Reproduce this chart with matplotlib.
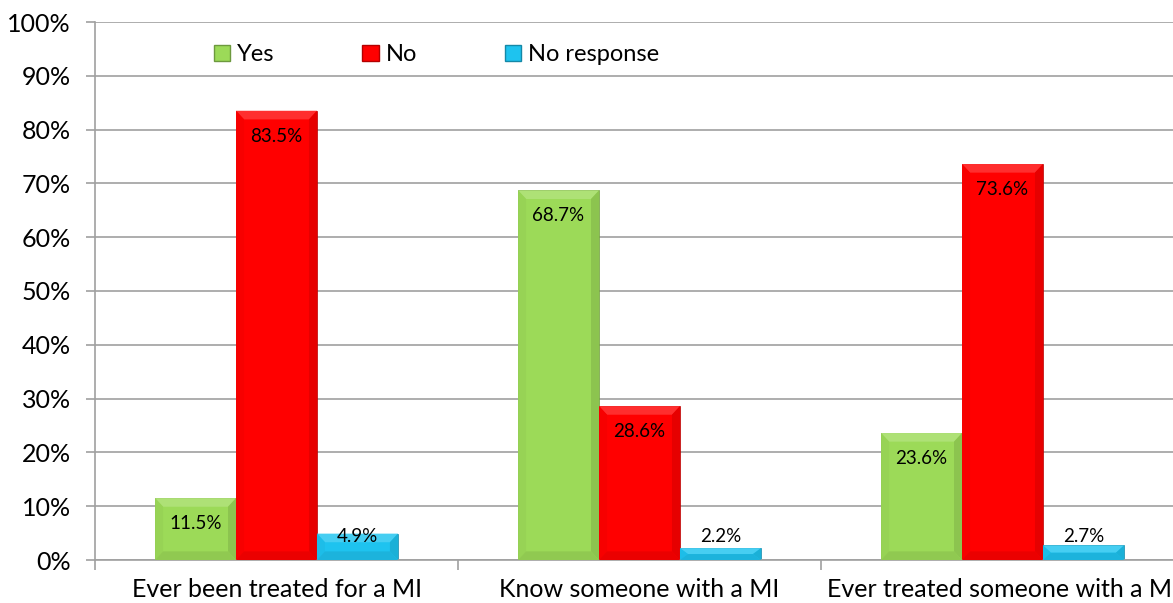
import matplotlib
matplotlib.use("Agg")
import matplotlib.pyplot as plt
from matplotlib.patches import Polygon, Patch
from matplotlib.colors import to_rgb
import numpy as np

categories = ["Ever been treated for a MI", "Know someone with a MI", "Ever treated someone with a MI"]
series_names = ["Yes", "No", "No response"]
yes_vals = [11.5, 68.7, 23.6]
no_vals = [83.5, 28.6, 73.6]
noresp_vals = [4.9, 2.2, 2.7]
y_ticks = [0, 10, 20, 30, 40, 50, 60, 70, 80, 90, 100]

colors = ["#9CDA58", "#FF0000", "#1EC3EF"]

plt.rcParams["font.family"] = ["Lato", "DejaVu Sans"]

fig = plt.figure(figsize=(11.73, 6.03), dpi=100)
ax = fig.add_axes([95 / 1173, 43 / 603, 1089 / 1173, 538 / 603])

x = np.arange(len(categories))
width = 0.223
offsets = [-width, 0, width]
grid_col = "#A0A0A0"


def shade(c, f):
    r, g, b = to_rgb(c)
    if f >= 1:
        return (r + (1 - r) * (f - 1), g + (1 - g) * (f - 1), b + (1 - b) * (f - 1))
    return (r * f, g * f, b * f)


def bevel(ax, x0, x1, y0, y1, color):
    # bevelled edge facets around a bar
    dx = 0.022
    dy = min(1.6, (y1 - y0) / 2)
    facets = [
        ([(x0, y1), (x1, y1), (x1 - dx, y1 - dy), (x0 + dx, y1 - dy)], shade(color, 1.18)),
        ([(x0, y0), (x0, y1), (x0 + dx, y1 - dy), (x0 + dx, y0 + dy)], shade(color, 0.97)),
        ([(x1, y0), (x1, y1), (x1 - dx, y1 - dy), (x1 - dx, y0 + dy)], shade(color, 0.9)),
        ([(x0, y0), (x1, y0), (x1 - dx, y0 + dy), (x0 + dx, y0 + dy)], shade(color, 0.92)),
    ]
    for pts, fc in facets:
        ax.add_patch(Polygon(pts, closed=True, facecolor=fc, edgecolor="none", zorder=3))


all_vals = [yes_vals, no_vals, noresp_vals]
for vals, off, col in zip(all_vals, offsets, colors):
    bars = ax.bar(x + off, vals, width, color=col, edgecolor=shade(col, 0.7), linewidth=0.5, zorder=2)
    for b, v in zip(bars, vals):
        x0 = b.get_x()
        x1 = x0 + b.get_width()
        bevel(ax, x0, x1, 0, v, col)
        ly = max(v - 4.7, 4.3)
        ax.text(x0 + b.get_width() / 2, ly, f"{v:.1f}%", ha="center", va="center",
                fontsize=13.5, color="#000000", zorder=5)

ax.set_xlim(-0.5, 2.5)
ax.set_ylim(0, 100)
ax.set_yticks(y_ticks)
ax.set_yticklabels([f"{t}%" for t in y_ticks], fontsize=18)
ax.yaxis.grid(True, color=grid_col, linewidth=1.2, zorder=0)
ax.set_axisbelow(True)

ax.set_xticks(x)
ax.set_xticklabels(categories, fontsize=18)
ax.tick_params(axis="x", which="major", length=0, pad=13)
ax.set_xticks([-0.5, 0.5, 1.5, 2.5], minor=True)
ax.tick_params(axis="x", which="minor", length=7, color=grid_col, width=1.2, direction="out")
ax.tick_params(axis="y", length=6.5, color=grid_col, width=1.2, pad=11)

for s in ["top", "right"]:
    ax.spines[s].set_visible(False)
for s in ["left", "bottom"]:
    ax.spines[s].set_color(grid_col)
    ax.spines[s].set_linewidth(1.2)

handles = [Patch(facecolor=c, edgecolor=shade(c, 0.7), label=n) for c, n in zip(colors, series_names)]
leg = ax.legend(handles=handles, loc="upper left", bbox_to_anchor=(0.109, 0.959), ncol=3,
                frameon=False, fontsize=17, handlelength=0.7, handleheight=0.7,
                handletextpad=0.3, columnspacing=3.7, borderpad=0, borderaxespad=0)

fig.savefig("out.png", dpi=100)
